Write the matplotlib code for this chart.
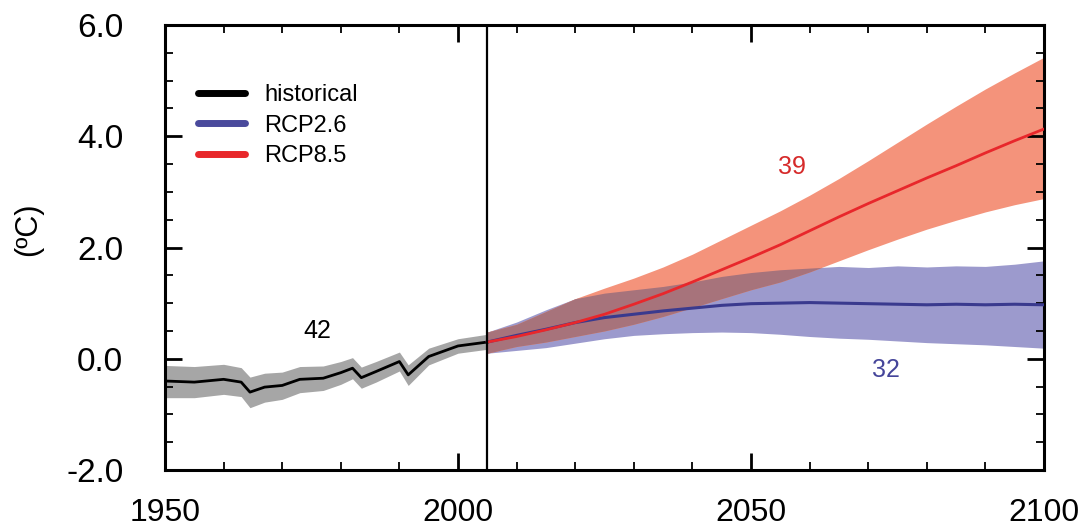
import numpy as np
import matplotlib
matplotlib.use("Agg")
import matplotlib.pyplot as plt
from matplotlib.ticker import MultipleLocator, FixedLocator

plt.rcParams['font.family'] = ['Liberation Sans', 'DejaVu Sans']

# ---- historical ----
hist_years = [1950, 1955, 1960, 1963, 1964.5, 1967, 1970, 1973, 1977, 1980,
              1982, 1983.5, 1986, 1990, 1991.5, 1995, 2000, 2005]
hist_mean = [-0.40, -0.42, -0.37, -0.42, -0.60, -0.51, -0.48, -0.37, -0.35, -0.25,
             -0.17, -0.34, -0.23, -0.05, -0.29, 0.04, 0.23, 0.30]
hist_upper = [-0.12, -0.14, -0.10, -0.16, -0.33, -0.26, -0.24, -0.14, -0.13, -0.05,
              0.02, -0.15, -0.05, 0.12, -0.11, 0.19, 0.36, 0.44]
hist_lower = [-0.70, -0.70, -0.64, -0.68, -0.88, -0.78, -0.73, -0.61, -0.57, -0.46,
              -0.36, -0.53, -0.42, -0.22, -0.48, -0.11, 0.10, 0.17]

# ---- projections ----
proj_years = [2005, 2010, 2015, 2020, 2025, 2030, 2035, 2040, 2045, 2050,
              2055, 2060, 2065, 2070, 2075, 2080, 2085, 2090, 2095, 2100]
rcp85_mean = [0.30, 0.40, 0.52, 0.65, 0.80, 0.98, 1.17, 1.38, 1.60, 1.82,
              2.05, 2.30, 2.55, 2.79, 3.02, 3.25, 3.47, 3.70, 3.92, 4.13]
rcp85_upper = [0.48, 0.62, 0.85, 1.08, 1.27, 1.45, 1.65, 1.88, 2.14, 2.40,
               2.66, 2.94, 3.24, 3.56, 3.89, 4.22, 4.54, 4.85, 5.14, 5.42]
rcp85_lower = [0.10, 0.22, 0.30, 0.40, 0.50, 0.62, 0.76, 0.92, 1.08, 1.24,
               1.38, 1.56, 1.76, 1.96, 2.15, 2.33, 2.49, 2.64, 2.77, 2.88]
rcp26_mean = [0.30, 0.42, 0.53, 0.65, 0.74, 0.80, 0.86, 0.91, 0.96, 0.99,
              1.00, 1.01, 1.00, 0.99, 0.98, 0.97, 0.98, 0.97, 0.98, 0.97]
rcp26_upper = [0.48, 0.66, 0.88, 1.08, 1.18, 1.24, 1.30, 1.38, 1.48, 1.55,
               1.60, 1.63, 1.66, 1.64, 1.67, 1.65, 1.67, 1.66, 1.70, 1.76]
rcp26_lower = [0.10, 0.15, 0.20, 0.28, 0.36, 0.42, 0.45, 0.47, 0.48, 0.47,
               0.44, 0.40, 0.37, 0.35, 0.32, 0.29, 0.27, 0.25, 0.22, 0.19]

labels = ['historical', 'RCP2.6', 'RCP8.5']
model_counts = ['42', '32', '39']

fig = plt.figure(figsize=(10.9, 5.32), dpi=100)
ax = fig.add_axes([165/1090, 1-470/532, (1044-165)/1090, (470-25)/532])

c_gray = '#A6A6A6'
c_salmon = '#F4937B'
c_lav = '#9C9ACD'
c_brown = '#A7737B'
c_red = '#E8272B'
c_blue = '#3A3A8E'

ax.fill_between(hist_years, hist_lower, hist_upper, color=c_gray, lw=0, zorder=1)
ax.fill_between(proj_years, rcp26_lower, rcp26_upper, color=c_lav, lw=0, zorder=1)
ax.fill_between(proj_years, rcp85_lower, rcp85_upper, color=c_salmon, lw=0, zorder=1)
ov_lo = np.maximum(rcp26_lower, rcp85_lower)
ov_hi = np.minimum(rcp26_upper, rcp85_upper)
ax.fill_between(proj_years, ov_lo, ov_hi, where=ov_hi > ov_lo, interpolate=True,
                color=c_brown, lw=0, zorder=2)

ax.plot(hist_years, hist_mean, color='black', lw=2.0, zorder=4)
ax.plot(proj_years, rcp26_mean, color=c_blue, lw=2.2, zorder=4)
ax.plot(proj_years, rcp85_mean, color=c_red, lw=2.0, zorder=5)

ax.axvline(2005, color='black', lw=1.6, zorder=6)

# legend
h1, = ax.plot([], [], color='black', lw=5, solid_capstyle='round')
h2, = ax.plot([], [], color='#4A4A9C', lw=5, solid_capstyle='round')
h3, = ax.plot([], [], color=c_red, lw=5, solid_capstyle='round')
leg = ax.legend([h1, h2, h3], labels, loc='upper left',
                bbox_to_anchor=(33/879, 1-59/445), frameon=False,
                fontsize=17, handlelength=2.0, handletextpad=0.8,
                labelspacing=0.36, borderpad=0, borderaxespad=0)

ax.text(1976, 0.49, model_counts[0], color='black', fontsize=18, ha='center', va='center')
ax.text(2073, -0.2, model_counts[1], color='#45459A', fontsize=18, ha='center', va='center')
ax.text(2057, 3.44, model_counts[2], color='#D62A2A', fontsize=18, ha='center', va='center')

ax.set_xlim(1950, 2100)
ax.set_ylim(-2, 6)
ax.xaxis.set_major_locator(FixedLocator([1950, 2000, 2050, 2100]))
ax.xaxis.set_minor_locator(MultipleLocator(10))
ax.yaxis.set_major_locator(MultipleLocator(2))
ax.yaxis.set_minor_locator(MultipleLocator(0.5))
ax.set_yticklabels([f'{v:.1f}' for v in ax.get_yticks()])
ax.tick_params(which='both', direction='in', top=True, right=True)
ax.tick_params(which='major', length=12, width=2.0)
ax.tick_params(which='minor', length=6, width=1.3)
ax.tick_params(axis='y', which='major', labelsize=24, pad=30)
ax.tick_params(axis='x', which='major', labelsize=23, pad=20)
for s in ax.spines.values():
    s.set_linewidth(2.2)

fig.text(28/1090, 1-229/532, '(ºC)', rotation=90, fontsize=22,
         ha='center', va='center')

fig.savefig('out.png', dpi=100)
